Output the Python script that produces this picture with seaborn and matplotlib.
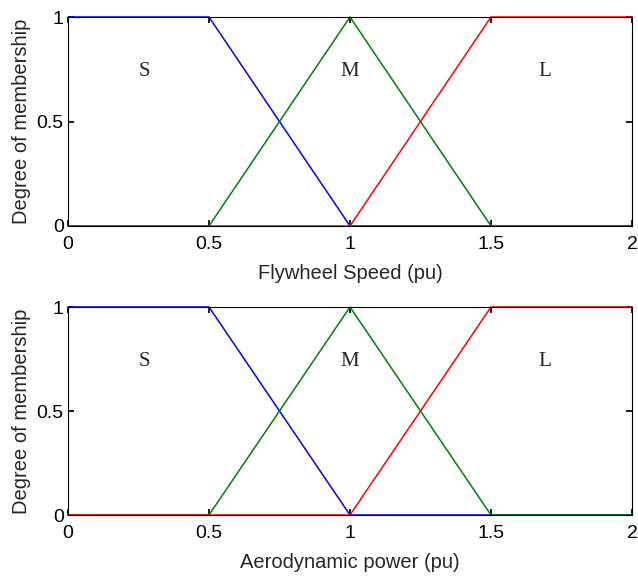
import matplotlib
matplotlib.use("Agg")
import matplotlib.pyplot as plt
import seaborn as sns
import pandas as pd

sns.set_theme(style="white")
plt.rcParams['font.family'] = ['Liberation Sans', 'DejaVu Sans']

x_pts = [0, 0.5, 1, 1.5, 2]
s_vals = [1, 1, 0, 0, 0]
m_vals = [0, 0, 1, 0, 0]
l_vals = [0, 0, 0, 1, 1]
labels = ["S", "M", "L"]
label_x = [0.27, 1.0, 1.69]
label_y = [0.74, 0.74, 0.74]
xlabels = ["Flywheel Speed (pu)", "Aerodynamic power (pu)"]
xticks = [0, 0.5, 1, 1.5, 2]
yticks = [0, 0.5, 1]
colors = ["blue", "green", "red"]

fig = plt.figure(figsize=(6.38, 5.77), dpi=100)
axes = [fig.add_axes([68/638, 1-226/577, 564/638, 209/577]),
        fig.add_axes([68/638, 1-515/577, 564/638, 208/577])]

for ax, xl in zip(axes, xlabels):
    df = pd.DataFrame({"x": x_pts, "S": s_vals, "M": m_vals, "L": l_vals})
    for col, c in zip(["S", "M", "L"], colors):
        sns.lineplot(data=df, x="x", y=col, ax=ax, color=c, lw=1.1, clip_on=False)
    for lab, lx, ly in zip(labels, label_x, label_y):
        ax.text(lx, ly, lab, family=["Liberation Serif"], fontsize=15, ha="center", va="center")
    ax.set_xlim(0, 2)
    ax.set_ylim(0, 1)
    ax.set_xticks(xticks)
    ax.set_xticklabels(["0", "0.5", "1", "1.5", "2"])
    ax.set_yticks(yticks)
    ax.set_yticklabels(["0", "0.5", "1"])
    ax.set_xlabel(xl, fontsize=14.5, labelpad=8)
    ax.set_ylabel("Degree of membership", fontsize=14.5, labelpad=4)
    ax.tick_params(direction="in", length=4, labelsize=14, colors="black",
                   top=True, right=True, bottom=True, left=True)
    ax.tick_params(axis="x", pad=7)
    ax.tick_params(axis="y", pad=3)
    for sp in ax.spines.values():
        sp.set_color("black")
        sp.set_linewidth(0.8)
        sp.set_visible(True)

fig.savefig("out.png", dpi=100, facecolor="white")
